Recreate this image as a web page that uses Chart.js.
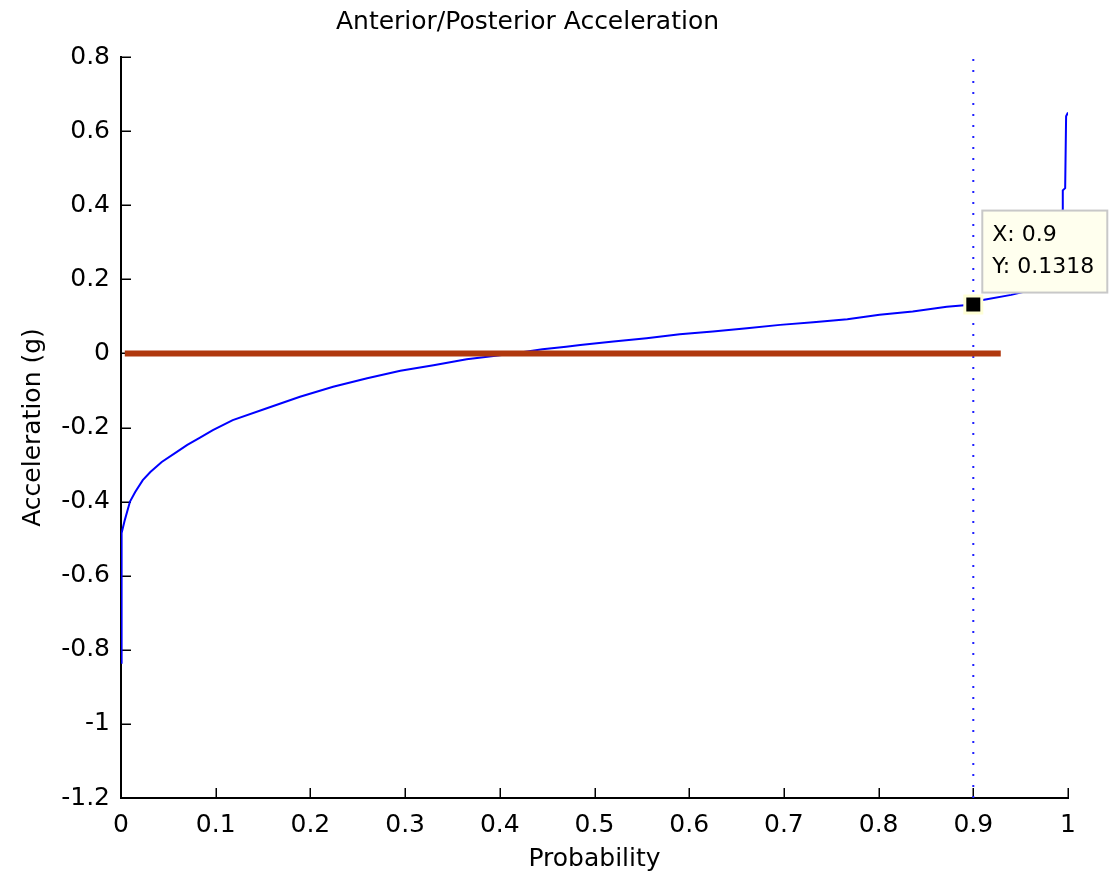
<!DOCTYPE html>
<html><head><meta charset="utf-8">
<script src="https://cdn.jsdelivr.net/npm/chart.js@4.4.1/dist/chart.umd.min.js"></script>
<style>html,body{margin:0;padding:0;background:#fff;}canvas{display:block;}</style>
</head><body>
<canvas id="c" width="1116" height="880"></canvas>
<script>
const chartTitle = 'Anterior/Posterior Acceleration';
const xAxisTitle = 'Probability';
const yAxisTitle = 'Acceleration (g)';

const probability = [0, 0.0003, 0.0006, 0.001, 0.004, 0.0095, 0.015, 0.023, 0.031, 0.043, 0.059, 0.07, 0.083, 0.097, 0.118, 0.154, 0.189, 0.224, 0.26, 0.295, 0.33, 0.365, 0.40, 0.42, 0.445, 0.47, 0.485, 0.52, 0.555, 0.59, 0.625, 0.661, 0.696, 0.731, 0.767, 0.801, 0.836, 0.872, 0.9, 0.91, 0.94, 0.96, 0.98, 0.99, 0.994, 0.9945, 0.997, 0.998, 1.0];
const acceleration = [-0.835, -0.55, -0.51, -0.485, -0.45, -0.40, -0.374, -0.342, -0.32, -0.293, -0.266, -0.247, -0.228, -0.207, -0.18, -0.148, -0.117, -0.09, -0.067, -0.047, -0.032, -0.016, -0.005, 0.002, 0.011, 0.018, 0.0227, 0.032, 0.041, 0.052, 0.059, 0.068, 0.077, 0.084, 0.092, 0.104, 0.113, 0.126, 0.1318, 0.144, 0.158, 0.17, 0.2, 0.26, 0.385, 0.44, 0.446, 0.64, 0.65];

const zeroLineX = [0.004, 0.929];
const zeroLineY = [0, 0];
const cursorX = [0.9, 0.9];
const cursorY = [-1.2, 0.8];
const markerX = [0.9];
const markerY = [0.1318];
const tipLines = ['X: 0.9', 'Y: 0.1318'];

const xTickLabels = ['0','0.1','0.2','0.3','0.4','0.5','0.6','0.7','0.8','0.9','1'];
const yTickLabels = ['-1.2','-1','-0.8','-0.6','-0.4','-0.2','0','0.2','0.4','0.6','0.8'];

const FONT = 'DejaVu Sans';
const pts = (xs, ys) => xs.map((x, i) => ({x: x, y: ys[i]}));

const annot = {
  id: 'annot',
  beforeDatasetsDraw(chart) {
    // inward tick marks, MATLAB style
    const {ctx, chartArea, scales: {x, y}} = chart;
    ctx.save();
    ctx.strokeStyle = '#000';
    ctx.lineWidth = 1.5;
    ctx.beginPath();
    x.ticks.forEach(t => {
      const p = Math.round(x.getPixelForValue(t.value)) + 0.25;
      ctx.moveTo(p, chartArea.bottom);
      ctx.lineTo(p, chartArea.bottom - 10);
    });
    y.ticks.forEach(t => {
      const p = Math.round(y.getPixelForValue(t.value)) + 0.25;
      ctx.moveTo(chartArea.left, p);
      ctx.lineTo(chartArea.left + 10, p);
    });
    ctx.stroke();
    ctx.restore();
  },
  afterDatasetsDraw(chart) {
    const {ctx, scales: {x, y}} = chart;
    const px = x.getPixelForValue(markerX[0]);
    const py = y.getPixelForValue(markerY[0]);
    const bx = px + 9, by = py - 94, bw = 125, bh = 82;
    ctx.save();
    ctx.fillStyle = '#FFFFEE';
    ctx.fillRect(bx, by, bw, bh);
    ctx.strokeStyle = '#C8C8C8';
    ctx.lineWidth = 2;
    ctx.strokeRect(bx, by, bw, bh);
    ctx.fillStyle = '#000';
    ctx.font = '22px "' + FONT + '"';
    ctx.textBaseline = 'middle';
    ctx.textAlign = 'left';
    tipLines.forEach((t, i) => ctx.fillText(t, bx + 10, by + 25 + i * 32));
    ctx.restore();
  },
  afterDraw(chart) {
    const ctx = chart.ctx;
    ctx.save();
    ctx.fillStyle = '#000';
    ctx.font = '25px "' + FONT + '"';
    ctx.textAlign = 'center';
    ctx.textBaseline = 'middle';
    ctx.fillText(chartTitle, 527.5, 22.5);
    ctx.restore();
  }
};

new Chart(document.getElementById('c'), {
  type: 'line',
  data: {
    datasets: [
      {
        label: 'marker',
        data: pts(markerX, markerY),
        showLine: false,
        pointStyle: 'rect',
        pointRadius: 12,
        pointBackgroundColor: '#000000',
        pointBorderColor: '#FFFFD6',
        pointBorderWidth: 3,
        order: 0
      },
      {
        label: 'zero',
        data: pts(zeroLineX, zeroLineY),
        borderColor: '#B0380E',
        borderWidth: 6,
        pointRadius: 0,
        order: 1
      },
      {
        label: 'curve',
        data: pts(probability, acceleration),
        borderColor: '#0000FF',
        borderWidth: 2,
        pointRadius: 0,
        tension: 0,
        order: 2
      },
      {
        label: 'cursor',
        data: pts(cursorX, cursorY),
        borderColor: '#2020FF',
        borderWidth: 2,
        borderDash: [2, 9],
        pointRadius: 0,
        order: 3
      }
    ]
  },
  options: {
    responsive: false,
    devicePixelRatio: 1,
    animation: false,
    events: [],
    layout: {padding: {top: 57, right: 48, left: 0, bottom: 0}},
    plugins: {legend: {display: false}, tooltip: {enabled: false}, title: {display: false}},
    scales: {
      x: {
        type: 'linear', min: 0, max: 1,
        afterFit: s => { s.height = 82; },
        ticks: {
          stepSize: 0.1, autoSkip: false, maxRotation: 0, padding: 12,
          color: '#000', font: {family: FONT, size: 25},
          callback: v => xTickLabels[Math.round(v * 10)]
        },
        grid: {display: false, drawTicks: false},
        border: {display: true, color: '#000', width: 2},
        title: {display: true, text: xAxisTitle, color: '#000', font: {family: FONT, size: 25}, padding: {top: 0, bottom: 6}}
      },
      y: {
        type: 'linear', min: -1.2, max: 0.8,
        afterFit: s => { s.width = 121; },
        ticks: {
          stepSize: 0.2, autoSkip: false, padding: 11,
          color: '#000', font: {family: FONT, size: 25},
          callback: v => yTickLabels[Math.round((v + 1.2) / 0.2)]
        },
        grid: {display: false, drawTicks: false},
        border: {display: true, color: '#000', width: 2},
        title: {display: true, text: yAxisTitle, color: '#000', font: {family: FONT, size: 25}, padding: {top: 18, bottom: 0}}
      }
    }
  },
  plugins: [annot]
});
</script>
</body></html>
